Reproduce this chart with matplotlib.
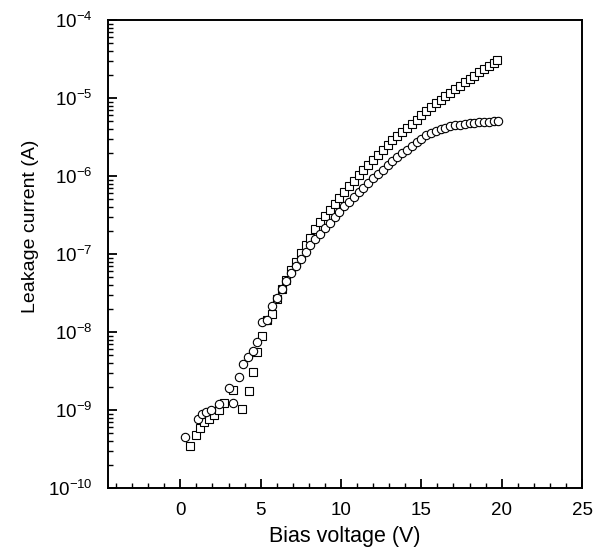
import matplotlib
matplotlib.use("Agg")
import matplotlib.pyplot as plt
from matplotlib.ticker import LogLocator, MultipleLocator, NullFormatter
import numpy as np

plt.rcParams['font.family'] = ['Liberation Sans', 'DejaVu Sans']
plt.rcParams['mathtext.fontset'] = 'custom'
plt.rcParams['mathtext.rm'] = 'Liberation Sans'
plt.rcParams['mathtext.it'] = 'Liberation Sans'

# circles (V, log10 of current)
circ_v = [0.3, 1.1, 1.35, 1.6, 1.9, 2.4, 3.0, 3.3, 3.65, 3.9, 4.2, 4.5, 4.8,
          5.1, 5.4, 5.7, 6.0, 6.3, 6.6, 6.9, 7.2, 7.5, 7.8, 8.1, 8.4, 8.7,
          9.0, 9.3, 9.6, 9.9, 10.2, 10.5, 10.8, 11.1, 11.4, 11.7, 12.0, 12.3,
          12.6, 12.9, 13.2, 13.5, 13.8, 14.1, 14.4, 14.7, 15.0, 15.3, 15.6,
          15.9, 16.2, 16.5, 16.8, 17.1, 17.4, 17.7, 18.0, 18.3, 18.6, 18.9,
          19.2, 19.5, 19.8]
circ_log = [-9.35, -9.12, -9.05, -9.02, -9.00, -8.92, -8.72, -8.91, -8.58,
            -8.41, -8.32, -8.24, -8.13, -7.87, -7.84, -7.67, -7.56, -7.45,
            -7.35, -7.24, -7.15, -7.06, -6.98, -6.89, -6.81, -6.74, -6.67,
            -6.60, -6.52, -6.46, -6.38, -6.33, -6.27, -6.21, -6.15, -6.09,
            -6.03, -5.98, -5.92, -5.86, -5.81, -5.76, -5.71, -5.67, -5.62,
            -5.57, -5.52, -5.48, -5.45, -5.42, -5.40, -5.38, -5.36, -5.35,
            -5.34, -5.33, -5.32, -5.32, -5.31, -5.31, -5.31, -5.30, -5.30]

# squares (V, log10 of current)
sq_v = [0.6, 0.95, 1.2, 1.5, 1.8, 2.1, 2.4, 2.75, 3.3, 3.85, 4.25, 4.55, 4.8,
        5.1, 5.4, 5.7, 6.0, 6.3, 6.6, 6.9, 7.2, 7.5, 7.8, 8.1, 8.4, 8.7,
        9.0, 9.3, 9.6, 9.9, 10.2, 10.5, 10.8, 11.1, 11.4, 11.7, 12.0, 12.3,
        12.6, 12.9, 13.2, 13.5, 13.8, 14.1, 14.4, 14.7, 15.0, 15.3, 15.6,
        15.9, 16.2, 16.5, 16.8, 17.1, 17.4, 17.7, 18.0, 18.3, 18.6, 18.9,
        19.2, 19.5, 19.7]
sq_log = [-9.46, -9.32, -9.23, -9.16, -9.11, -9.06, -9.00, -8.91, -8.74,
          -8.99, -8.76, -8.51, -8.26, -8.05, -7.85, -7.77, -7.58, -7.45,
          -7.33, -7.20, -7.10, -6.99, -6.88, -6.79, -6.68, -6.59, -6.51,
          -6.44, -6.36, -6.28, -6.21, -6.13, -6.06, -5.99, -5.92, -5.86,
          -5.79, -5.73, -5.67, -5.60, -5.54, -5.49, -5.43, -5.38, -5.33,
          -5.28, -5.22, -5.17, -5.12, -5.07, -5.03, -4.98, -4.94, -4.89,
          -4.84, -4.80, -4.76, -4.72, -4.67, -4.63, -4.59, -4.55, -4.51]

circ_i = 10.0 ** np.array(circ_log)
sq_i = 10.0 ** np.array(sq_log)

fig = plt.figure(figsize=(6.05, 5.56), dpi=100, facecolor='white')
ax = fig.add_axes([0.1785, 0.1223, 0.7835, 0.8417])

ax.semilogy(sq_v, sq_i, linestyle='none', marker='s', markersize=5.6,
            markerfacecolor='white', markeredgecolor='black', markeredgewidth=0.8)
ax.semilogy(circ_v, circ_i, linestyle='none', marker='o', markersize=6.0,
            markerfacecolor='white', markeredgecolor='black', markeredgewidth=0.8)

ax.set_xlim(-4.5, 25)
ax.set_ylim(1e-10, 1e-4)

ax.xaxis.set_major_locator(MultipleLocator(5))
ax.xaxis.set_minor_locator(MultipleLocator(1))
ax.yaxis.set_major_locator(LogLocator(base=10, numticks=10))
ax.yaxis.set_minor_locator(LogLocator(base=10, subs=np.arange(2, 10), numticks=20))
ax.yaxis.set_minor_formatter(NullFormatter())

ax.tick_params(which='major', direction='in', length=6.5, width=1.3,
               labelsize=13.5, top=False, right=False)
ax.tick_params(which='minor', direction='in', length=3.5, width=1.0,
               top=False, right=False)
ax.tick_params(axis='x', which='major', pad=10)
ax.tick_params(axis='y', which='major', pad=11)

for s in ax.spines.values():
    s.set_linewidth(1.4)

ax.set_xlabel("Bias voltage (V)", fontsize=15.5, labelpad=5)
ax.set_ylabel("Leakage current (A)", fontsize=14)
ax.yaxis.set_label_coords(-0.145, 0.56)

fig.savefig("out.png", dpi=100, facecolor='white')
